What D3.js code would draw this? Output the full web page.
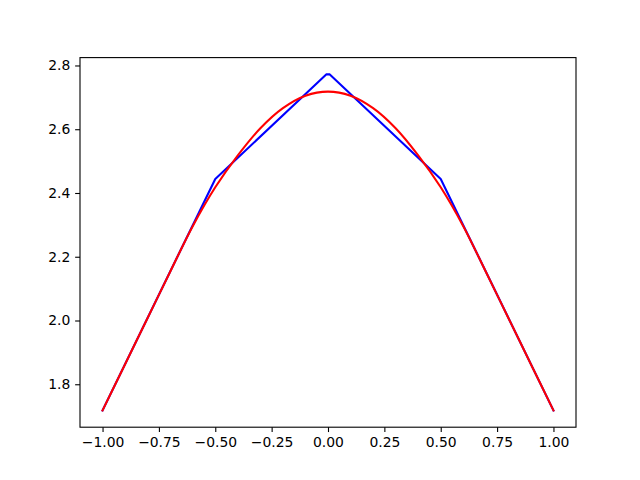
<!DOCTYPE html>
<html>
<head>
<meta charset="utf-8">
<script src="https://cdn.jsdelivr.net/npm/d3@7"></script>
<style>
  body { margin: 0; background: #fff; }
  text { font-family: "DejaVu Sans", sans-serif; }
</style>
</head>
<body>
<div id="chart"></div>
<script>
// blue: piecewise linear
const blueX = [-1, -0.5, -0.008, 0.008, 0.5, 1];
const blueY = [1.718, 2.444, 2.772, 2.772, 2.444, 1.718];

// red: smooth curve, read every 0.1
const redX = [-1, -0.9, -0.8, -0.7, -0.6, -0.5, -0.4, -0.3, -0.2, -0.1, 0,
              0.1, 0.2, 0.3, 0.4, 0.5, 0.6, 0.7, 0.8, 0.9, 1];
const redY = [1.718, 1.863, 2.008, 2.153, 2.296, 2.418, 2.518, 2.603, 2.666, 2.705, 2.718,
              2.705, 2.666, 2.603, 2.518, 2.418, 2.296, 2.153, 2.008, 1.863, 1.718];

const xTicks = [-1, -0.75, -0.5, -0.25, 0, 0.25, 0.5, 0.75, 1];
const yTicks = [1.8, 2.0, 2.2, 2.4, 2.6, 2.8];

const width = 640, height = 480;
const margin = {left: 80, right: 64, top: 57.6, bottom: 52.8};

const svg = d3.select("#chart").append("svg")
    .attr("width", width)
    .attr("height", height);

const x = d3.scaleLinear().domain([-1.1, 1.1])
    .range([margin.left, width - margin.right]);
const y = d3.scaleLinear().domain([1.6653, 2.8247])
    .range([height - margin.bottom, margin.top]);

const minus = s => s.replace("-", "\u2212");

const xAxis = svg.append("g")
    .attr("transform", `translate(0,${height - margin.bottom})`)
    .call(d3.axisBottom(x).tickValues(xTicks)
      .tickFormat(d => minus(d3.format(".2f")(d)))
      .tickSizeInner(4.86).tickSizeOuter(0).tickPadding(4.86));

const yAxis = svg.append("g")
    .attr("transform", `translate(${margin.left},0)`)
    .call(d3.axisLeft(y).tickValues(yTicks)
      .tickFormat(d3.format(".1f"))
      .tickSizeInner(4.86).tickSizeOuter(0).tickPadding(4.86));

[xAxis, yAxis].forEach(g => {
  g.select(".domain").remove();
  g.selectAll(".tick line").attr("stroke", "#000").attr("stroke-width", 1.1);
  g.selectAll(".tick text").attr("font-size", "13.9px")
    .attr("font-family", "DejaVu Sans").attr("fill", "#000");
});

const line = d3.line().x(d => x(d[0])).y(d => y(d[1]));

svg.append("path")
    .datum(d3.zip(blueX, blueY))
    .attr("fill", "none")
    .attr("stroke", "#0000ff")
    .attr("stroke-width", 2.08)
    .attr("stroke-linejoin", "round")
    .attr("stroke-linecap", "square")
    .attr("d", line);

svg.append("path")
    .datum(d3.zip(redX, redY))
    .attr("fill", "none")
    .attr("stroke", "#ff0000")
    .attr("stroke-width", 2.08)
    .attr("stroke-linejoin", "round")
    .attr("stroke-linecap", "square")
    .attr("d", line.curve(d3.curveCatmullRom));

svg.append("rect")
    .attr("x", margin.left)
    .attr("y", margin.top)
    .attr("width", width - margin.left - margin.right)
    .attr("height", height - margin.top - margin.bottom)
    .attr("fill", "none")
    .attr("stroke", "#000")
    .attr("stroke-width", 1.1);
</script>
</body>
</html>
